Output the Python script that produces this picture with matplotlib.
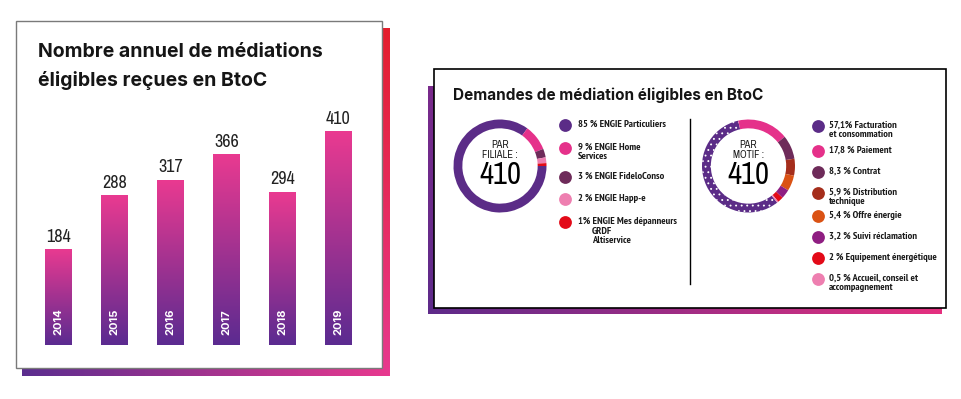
import os
import numpy as np
import matplotlib
matplotlib.use("Agg")
import matplotlib.pyplot as plt
from matplotlib import font_manager as fm
from matplotlib.colors import to_rgb
from matplotlib.patches import Rectangle

# ---------------- data ----------------
years = ['2014', '2015', '2016', '2017', '2018', '2019']
counts = [184, 288, 317, 366, 294, 410]

filiale_values = [85, 9, 3, 2, 1]
filiale_labels = ['85 % ENGIE Particuliers', '9 % ENGIE Home\nServices', '3 % ENGIE FideloConso',
                  '2 % ENGIE Happ-e', '1% ENGIE Mes dépanneurs']
filiale_extra = 'GRDF\nAltiservice'
filiale_colors = ['#5B2C87', '#E5318A', '#6E2B5A', '#EE7FB0', '#E30A18']

motif_values = [57.1, 17.8, 8.3, 5.9, 5.4, 3.2, 2, 0.5]
motif_labels = ['57,1% Facturation\net consommation', '17,8 % Paiement', '8,3 % Contrat',
                '5,9 % Distribution\ntechnique', '5,4 % Offre énergie', '3,2 % Suivi réclamation',
                '2 % Equipement énergétique', '0,5 % Accueil, conseil et\naccompagnement']
motif_colors = ['#5B2C87', '#E5318A', '#6E2B5A', '#A52E1C', '#DA5214', '#8F1E82', '#E30A18', '#EE7FB0']

total = 410
title_left = 'Nombre annuel de médiations\néligibles reçues en BtoC'
title_right = 'Demandes de médiation éligibles en BtoC'


# ---------------- fonts ----------------
def find_font(bold):
    files = [f.fname for f in fm.fontManager.ttflist]
    for key in ('Narrow', 'Condensed', 'Cond'):
        for fn in sorted(files):
            base = os.path.basename(fn)
            if key in base and 'Oblique' not in base and 'Italic' not in base:
                is_bold = 'Bold' in base
                if is_bold == bold and 'Light' not in base:
                    return fm.FontProperties(fname=fn)
    return fm.FontProperties(family='DejaVu Sans', weight='bold' if bold else 'normal')


COND = find_font(False)
COND_B = find_font(True)
TITLE = ['Inter', 'DejaVu Sans']


def fp(base, size):
    p = base.copy()
    p.set_size(size)
    return p


# ---------------- figure ----------------
W, H = 962, 399
fig = plt.figure(figsize=(W / 100, H / 100), dpi=100)
fig.patch.set_facecolor('white')


def fr(x0, y0, x1, y1):
    return [x0 / W, 1 - y1 / H, (x1 - x0) / W, (y1 - y0) / H]


bg = fig.add_axes([0, 0, 1, 1])
bg.set_xlim(0, W)
bg.set_ylim(0, H)
bg.axis('off')
bg.set_zorder(0)


def grad_rect(ax, x0, y0, x1, y1, c0, c1, direction='h'):
    t = np.linspace(0, 1, 256)
    cols = (1 - t)[:, None] * np.array(to_rgb(c0)) + t[:, None] * np.array(to_rgb(c1))
    img = cols[None, :, :] if direction == 'h' else cols[:, None, :]
    ax.imshow(img, extent=(x0, x1, H - y1, H - y0), origin='upper', aspect='auto',
              interpolation='bilinear', zorder=1)


# left panel shadow + box
grad_rect(bg, 382, 28, 390, 376, '#E41E2D', '#E8398F', 'v')
grad_rect(bg, 22, 368, 390, 376, '#5B2D8E', '#E8398F', 'h')
bg.add_patch(Rectangle((16, H - 368), 366, 347, facecolor='white', edgecolor='#7a7a7a', lw=1, zorder=2))

# right panel shadow + box
grad_rect(bg, 428, 86, 434, 314, '#7A2A8C', '#5E2A8A', 'v')
grad_rect(bg, 428, 308, 942, 314, '#5E2A8A', '#E5307F', 'h')
bg.add_patch(Rectangle((434, H - 308), 512, 239, facecolor='white', edgecolor='black', lw=1.2, zorder=2))

# titles
bg.text(38, H - 52, title_left.split('\n')[0], fontsize=14, fontweight='bold', family=TITLE,
        va='center', ha='left', color='#151515', zorder=3)
bg.text(38, H - 80, title_left.split('\n')[1], fontsize=14, fontweight='bold', family=TITLE,
        va='center', ha='left', color='#151515', zorder=3)
bg.text(453, H - 95, title_right, fontsize=11, fontweight='bold', family=TITLE, va='center', ha='left',
        color='#151515', zorder=3)

# ---------------- bar chart ----------------
px_per_unit = 214 / 410.0
ax = fig.add_axes(fr(30.5, 345 - 250, 366.5, 345))
ax.set_zorder(2)
ax.patch.set_alpha(0)
ymax = 250 / px_per_unit
x = np.arange(len(years))
bars = ax.bar(x, counts, width=0.48, color='none', edgecolor='none')
t = np.linspace(0, 1, 256)
top_c, bot_c = np.array(to_rgb('#EA3A91')), np.array(to_rgb('#5B2B90'))
grad = ((1 - t)[:, None] * top_c + t[:, None] * bot_c)[:, None, :]
for b, v, yr in zip(bars, counts, years):
    x0 = b.get_x()
    im = ax.imshow(grad, extent=(x0, x0 + b.get_width(), 0, v), origin='upper', aspect='auto',
                   interpolation='bilinear', zorder=2)
    im.set_clip_path(b)
    ax.annotate(str(v), (b.get_x() + b.get_width() / 2, v), xytext=(0, 3), textcoords='offset points',
                ha='center', va='bottom', fontproperties=fp(COND, 13), color='#222222')
    ax.text(b.get_x() + b.get_width() / 2, 23 / px_per_unit, yr, rotation=90, ha='center', va='center',
            color='white', fontsize=8, fontweight='bold', family=TITLE, zorder=3)
ax.set_xlim(-0.5, len(years) - 0.5)
ax.set_ylim(0, ymax)
ax.axis('off')


# ---------------- donuts ----------------
def donut(cx, cy, r, values, colors, start, line2, texture):
    dax = fig.add_axes(fr(cx - r, cy - r, cx + r, cy + r))
    dax.set_zorder(3)
    wedges, _ = dax.pie(values, colors=colors, startangle=start, counterclock=False,
                        wedgeprops=dict(width=0.19, linewidth=0))
    if texture:
        w = wedges[0]
        w.set_hatch(texture)
        w.set_edgecolor('white')
        w.set_linewidth(0)
    dax.set_xlim(-1, 1)
    dax.set_ylim(-1, 1)
    dax.set_aspect('equal')
    dax.text(0, 0.45, 'PAR', ha='center', va='center', fontproperties=fp(COND, 7.5), color='#1a1a1a')
    dax.text(0, 0.23, line2, ha='center', va='center', fontproperties=fp(COND, 7.5), color='#1a1a1a')
    dax.text(0, -0.2, str(total), ha='center', va='center', fontproperties=fp(COND, 22), color='black')


plt.rcParams['hatch.linewidth'] = 0.6
donut(500, 166, 46.5, filiale_values, filiale_colors, 0, 'FILIALE :', None)
donut(748.5, 166, 46.5, motif_values, motif_colors, -52, 'MOTIF :', '...')

# divider
bg.plot([690, 690], [H - 119, H - 284], color='black', lw=1, zorder=3)

# legends
LEG = fp(COND_B, 7.5)
leg1_y = [125, 148, 177, 199, 222]
for yy, c, lab in zip(leg1_y, filiale_colors, filiale_labels):
    bg.scatter([565], [H - yy], s=85, color=c, zorder=4, linewidths=0)
    bg.text(578, H - yy + 5, lab, ha='left', va='top', fontproperties=LEG,
            color='#1a1a1a', linespacing=0.98, zorder=4)
bg.text(592, H - leg1_y[-1] + 5 - 9.9, filiale_extra, ha='left', va='top', fontproperties=LEG,
        color='#1a1a1a', linespacing=0.98, zorder=4)

leg2_y = [126, 151, 172, 193, 216, 237, 258, 279]
for yy, c, lab in zip(leg2_y, motif_colors, motif_labels):
    bg.scatter([818], [H - yy], s=85, color=c, zorder=4, linewidths=0)
    bg.text(829, H - yy + 5, lab, ha='left', va='top', fontproperties=LEG,
            color='#1a1a1a', linespacing=0.98, zorder=4)

fig.savefig('out.png', dpi=100, facecolor='white')
